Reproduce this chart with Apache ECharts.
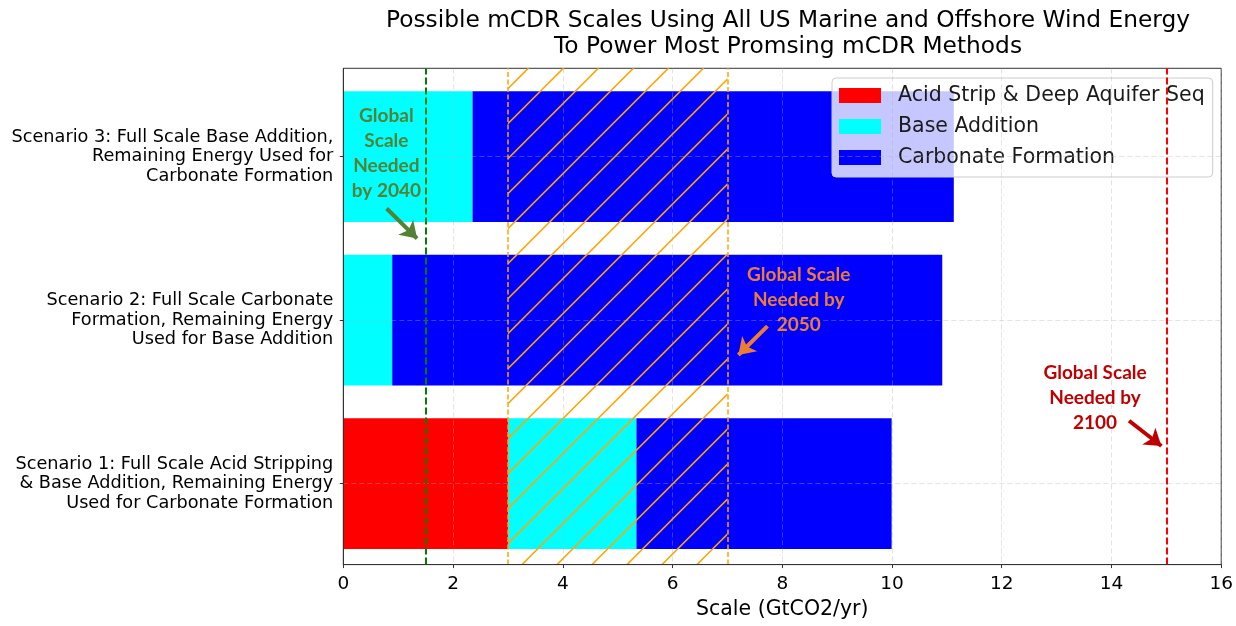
<!DOCTYPE html>
<html><head><meta charset="utf-8">
<script src="https://cdn.jsdelivr.net/npm/echarts@6/dist/echarts.min.js"></script>
<style>html,body{margin:0;padding:0;background:#fff}#c{width:1236px;height:626px}</style>
</head><body><div id="c"></div>
<script>
// ---- data ----
const categories = [
  'Scenario 1: Full Scale Acid Stripping\n& Base Addition, Remaining Energy\nUsed for Carbonate Formation',
  'Scenario 2: Full Scale Carbonate\nFormation, Remaining Energy\nUsed for Base Addition',
  'Scenario 3: Full Scale Base Addition,\nRemaining Energy Used for\nCarbonate Formation'
];
const seriesNames = ['Acid Strip & Deep Aquifer Seq', 'Base Addition', 'Carbonate Formation'];
const acidStrip = [3.0, 0, 0];
const baseAddition = [2.33, 0.89, 2.35];
const carbonateFormation = [4.64, 10.0, 8.75];
const xTickMin = 0, xTickMax = 16, xTickStep = 2;
const need2040 = 1.5;
const need2050Range = [3, 7];
const need2100 = 15;
const annoTexts = ['Global\nScale\nNeeded\nby 2040', 'Global Scale\nNeeded by\n2050', 'Global Scale\nNeeded by\n2100'];
const annoTextAt = [[0.785, 2.015], [8.30, 1.103], [13.70, 0.492]];
const annoArrowFrom = [[0.79, 1.67], [7.73, 0.94], [14.32, 0.353]];
const annoArrowTo = [[1.345, 1.484], [7.20, 0.761], [14.91, 0.196]];

// ---- styles ----
const FONT = "'DejaVu Sans', sans-serif";
const barColors = ['#FF0000', '#00FFFF', '#0000FF'];
const annoColors = ['#548235', '#ED7D31', '#C00000'];
const gridLineColor = 'rgba(176,176,176,0.35)';

// hatch pattern
const T = 35;
const hc = document.createElement('canvas');
hc.width = T; hc.height = T;
const hx = hc.getContext('2d');
hx.strokeStyle = '#FFA500';
hx.lineWidth = 1.5;
const off = 1.6;
[off - T, off, off + T, off + 2 * T].forEach(s => {
  hx.beginPath();
  hx.moveTo(-10, s + 10);
  hx.lineTo(s + 10, -10);
  hx.stroke();
});

const chart = echarts.init(document.getElementById('c'), null, {renderer: 'canvas'});
const barData = [acidStrip, baseAddition, carbonateFormation];

const series = barData.map((d, i) => ({
  name: seriesNames[i], type: 'bar', stack: 'total',
  xAxisIndex: 1, yAxisIndex: 1, data: d,
  barWidth: '80%', z: 2,
  itemStyle: {color: barColors[i]},
  emphasis: {disabled: true}
}));

series.push({
  name: '_hgrid', type: 'line', xAxisIndex: 1, yAxisIndex: 1, data: [], z: 5, silent: true,
  markLine: {
    silent: true, symbol: 'none', label: {show: false}, z: 5,
    lineStyle: {color: gridLineColor, type: [5, 3], width: 1},
    data: categories.map(c => ({yAxis: c}))
  }
});

series.push({
  name: '_targets', type: 'scatter', xAxisIndex: 0, yAxisIndex: 0, data: [], z: 6, silent: true,
  markArea: {
    silent: true, z: 6,
    itemStyle: {color: {image: hc, repeat: 'repeat'}, opacity: 1, borderWidth: 0},
    data: [[{xAxis: need2050Range[0]}, {xAxis: need2050Range[1]}]]
  },
  markLine: {
    silent: true, symbol: 'none', label: {show: false}, z: 7,
    data: [
      {xAxis: need2040, lineStyle: {color: '#008000', type: [7, 3], width: 2}},
      {xAxis: need2050Range[0], lineStyle: {color: '#FFA500', type: [5, 2.5], width: 1.5}},
      {xAxis: need2050Range[1], lineStyle: {color: '#FFA500', type: [5, 2.5], width: 1.5}},
      {xAxis: need2100, lineStyle: {color: '#FF0000', type: [7, 3], width: 2}}
    ]
  }
});

series.push({
  name: '_anno', type: 'scatter', xAxisIndex: 0, yAxisIndex: 0, data: [], z: 8, silent: true,
  markPoint: {
    silent: true, symbol: 'circle', symbolSize: 0, z: 8,
    data: annoTexts.map((t, i) => ({
      coord: annoTextAt[i], value: t,
      label: {show: true, position: 'inside', formatter: t, color: annoColors[i],
        fontFamily: 'Lato', fontWeight: 'bold', fontSize: 19, lineHeight: 25, align: 'center', verticalAlign: 'middle'}
    }))
  },
  markLine: {
    silent: true, symbol: ['none', 'arrow'], symbolSize: 16, label: {show: false}, z: 8,
    data: annoTexts.map((t, i) => [
      {coord: annoArrowFrom[i], lineStyle: {color: annoColors[i], width: 4, type: 'solid'}, itemStyle: {color: annoColors[i]}},
      {coord: annoArrowTo[i]}
    ])
  }
});

chart.setOption({
  animation: false,
  backgroundColor: '#fff',
  textStyle: {fontFamily: FONT},
  title: {
    text: 'Possible mCDR Scales Using All US Marine and Offshore Wind Energy\nTo Power Most Promsing mCDR Methods',
    left: 783, top: 3, textAlign: 'center',
    textStyle: {fontFamily: FONT, fontSize: 23.3, fontWeight: 'normal', color: '#000', lineHeight: 26, align: 'center'}
  },
  legend: {
    data: seriesNames, left: 832, top: 78, orient: 'vertical',
    icon: 'rect', itemWidth: 42, itemHeight: 15, itemGap: 10,
    padding: [7, 8, 9, 7],
    backgroundColor: 'rgba(255,255,255,0.78)', borderColor: '#cccccc', borderWidth: 1, borderRadius: 4,
    textStyle: {fontFamily: FONT, fontSize: 20.5, color: '#1a1a1a', lineHeight: 20, padding: [0, 0, 0, 12]},
    selectedMode: false
  },
  grid: [
    {left: 343.3, right: 12.7, top: 68.3, bottom: 53.7, show: true, borderColor: '#333', borderWidth: 1, backgroundColor: 'transparent'},
    {left: 343.3, right: 12.7, top: 74.95, bottom: 60.55}
  ],
  xAxis: [
    {gridIndex: 0, type: 'value', min: xTickMin, max: xTickMax, interval: xTickStep, z: 10,
      axisLine: {show: true, onZero: false, lineStyle: {color: '#333', width: 1}},
      axisTick: {show: true, length: 3.5, lineStyle: {color: '#333'}},
      axisLabel: {fontFamily: FONT, fontSize: 18.5, color: '#000', margin: 9.5, lineHeight: 20},
      splitLine: {show: true, lineStyle: {color: gridLineColor, type: [5, 3], width: 1}},
      name: 'Scale (GtCO2/yr)', nameLocation: 'middle', nameGap: 31,
      nameTextStyle: {fontFamily: FONT, fontSize: 20.5, color: '#000', lineHeight: 22}},
    {gridIndex: 1, type: 'value', min: xTickMin, max: xTickMax, show: false}
  ],
  yAxis: [
    {gridIndex: 0, type: 'value', min: -0.54, max: 2.54, z: 10,
      axisLine: {show: true, onZero: false, lineStyle: {color: '#333', width: 1}},
      axisTick: {show: false}, axisLabel: {show: false}, splitLine: {show: false}},
    {gridIndex: 1, type: 'category', data: categories,
      axisLine: {show: false},
      axisTick: {show: true, alignWithLabel: true, length: 3.5, lineStyle: {color: '#333'}},
      axisLabel: {fontFamily: FONT, fontSize: 17.7, lineHeight: 19.5, color: '#000', margin: 10, align: 'right'},
      splitLine: {show: false}}
  ],
  series: series
});
</script>
</body></html>
